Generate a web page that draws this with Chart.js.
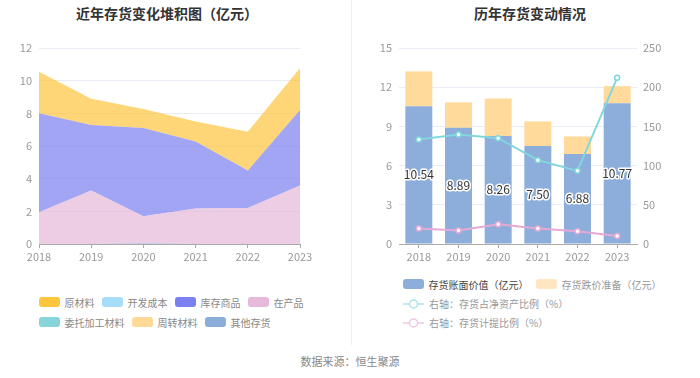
<!DOCTYPE html>
<html>
<head>
<meta charset="utf-8">
<script src="https://cdn.jsdelivr.net/npm/chart.js@4.4.0/dist/chart.umd.min.js"></script>
<style>
  html, body { margin: 0; padding: 0; background: #fff; }
  body { width: 700px; height: 378px; position: relative; overflow: hidden;
         font-family: "Noto Sans CJK SC", "Noto Sans", sans-serif; }
  .title { position: absolute; top: 3px; font-size: 14px; font-weight: bold; color: #333;
           transform: translateX(-50%); white-space: nowrap; }
  canvas { position: absolute; }
  .sep { position: absolute; left: 351px; top: 0; width: 1px; height: 345px; background: #efefef; }
  .legend { position: absolute; font-size: 10px; color: #888; }
  .row { display: flex; align-items: center; height: 20px; }
  .item { display: flex; align-items: center; margin-right: 7.5px; white-space: nowrap; }
  .sw { width: 21px; height: 10px; border-radius: 3px; margin-right: 4.5px; }
  .ic { margin-right: 5px; }
  .footer { position: absolute; left: 350px; top: 353px; transform: translateX(-50%);
            font-size: 11px; color: #888; white-space: nowrap; }
</style>
</head>
<body>
<div class="title" style="left:167px">近年存货变化堆积图（亿元）</div>
<div class="title" style="left:530px">历年存货变动情况</div>
<div class="sep"></div>
<canvas id="leftChart" width="340" height="240" style="left:0;top:30px"></canvas>
<canvas id="rightChart" width="348" height="240" style="left:352px;top:30px"></canvas>
<div class="legend" id="leftLegend" style="left:39px;top:292px"></div>
<div class="legend" id="rightLegend" style="left:403px;top:274px"></div>
<div class="footer">数据来源：恒生聚源</div>
<script>
// ---- data ----
const years = ["2018", "2019", "2020", "2021", "2022", "2023"];

// left: stacked inventory components (亿元)
const rawMaterial = [2.54, 1.60, 1.16, 1.22, 2.38, 2.56];   // 原材料
const devCost = [0, 0, 0, 0, 0, 0];                        // 开发成本
const goodsInStock = [6.06, 4.02, 5.40, 4.11, 2.29, 4.63]; // 库存商品
const workInProgress = [1.94, 3.27, 1.66, 2.17, 2.21, 3.58]; // 在产品
const consigned = [0, 0, 0, 0, 0, 0];                      // 委托加工材料
const turnover = [0, 0, 0, 0, 0, 0];                       // 周转材料
const otherStock = [0, 0, 0.04, 0, 0, 0];                  // 其他存货

// right: book value, impairment, ratios
const bookValue = [10.54, 8.89, 8.26, 7.50, 6.88, 10.77];  // 存货账面价值
const impairment = [2.67, 1.95, 2.88, 1.88, 1.35, 1.31];   // 存货跌价准备
const netAssetRatio = [133.4, 139.7, 135.0, 106.9, 93.3, 212.0]; // 存货占净资产比例 %
const provisionRatio = [19.7, 17.1, 25.2, 19.7, 16.2, 10.2];     // 存货计提比例 %

const leftTicks = [0, 2, 4, 6, 8, 10, 12];
const rightTicksL = [0, 3, 6, 9, 12, 15];
const rightTicksR = [0, 50, 100, 150, 200, 250];

Chart.defaults.font.family = '"Noto Sans CJK SC", "Noto Sans", sans-serif';
Chart.defaults.font.size = 11;
Chart.defaults.color = "#999";
Chart.defaults.animation = false;

const gridColor = "#e8ecf4";
const axisColor = "#aaa";

// ---- left chart: stacked area ----
// stacking bottom -> top; legend order is separate
const leftSeries = [
    { name: "其他存货", data: otherStock, color: "#8badda" },
    { name: "委托加工材料", data: consigned, color: "#86d5d8" },
    { name: "周转材料", data: turnover, color: "#ffd996" },
    { name: "开发成本", data: devCost, color: "#a6ddf8" },
    { name: "在产品", data: workInProgress, color: "#e6b8d9" },
    { name: "库存商品", data: goodsInStock, color: "#7b7ff0" },
    { name: "原材料", data: rawMaterial, color: "#ffc53d" }
];
const leftLegendOrder = ["原材料", "开发成本", "库存商品", "在产品", "委托加工材料", "周转材料", "其他存货"];

function withAlpha(hex, a) {
    const n = parseInt(hex.slice(1), 16);
    return `rgba(${n >> 16},${(n >> 8) & 255},${n & 255},${a})`;
}

new Chart(document.getElementById("leftChart"), {
    type: "line",
    data: {
        labels: years,
        datasets: leftSeries.map((s, i) => ({
            label: s.name,
            data: s.data,
            borderWidth: 0,
            borderColor: withAlpha(s.color, 0.7),
            backgroundColor: withAlpha(s.color, 0.7),
            pointRadius: 0,
            tension: 0,
            fill: i === 0 ? "origin" : "-1"
        }))
    },
    options: {
        responsive: false,
        layout: { padding: { top: 18, right: 40, left: 0, bottom: 0 } },
        plugins: { legend: { display: false }, tooltip: { enabled: false } },
        scales: {
            x: {
                offset: false,
                grid: { display: true, drawOnChartArea: false, drawTicks: true, tickLength: 4, color: axisColor },
                border: { display: true, color: axisColor },
                ticks: { padding: 2, color: "#999", maxRotation: 0 },
                afterFit: s => { s.height = 26; }
            },
            y: {
                stacked: true,
                min: 0, max: 12,
                afterBuildTicks: s => { s.ticks = leftTicks.map(v => ({ value: v })); },
                grid: { color: gridColor, drawTicks: false },
                border: { display: false },
                ticks: { padding: 7, color: "#999" },
                afterFit: s => { s.width = 39; }
            }
        }
    }
});

// ---- right chart: stacked bars + ratio lines ----
const rightBars = [
    { name: "存货账面价值（亿元）", data: bookValue, color: "#8dadda", swatch: "#8dadda" },
    { name: "存货跌价准备（亿元）", data: impairment, color: "#ffda9b", swatch: "#ffe6c2" }
];
const rightLines = [
    { name: "右轴：存货占净资产比例（%）", data: netAssetRatio, color: "#80d8de", icon: "#a8e5ea" },
    { name: "右轴：存货计提比例（%）", data: provisionRatio, color: "#e6a9d6", icon: "#f0c6e4" }
];

// value labels in the middle of the book-value bars
const barLabels = {
    id: "barLabels",
    afterDatasetsDraw(chart) {
        const ctx = chart.ctx;
        const idx = chart.data.datasets.findIndex(d => d.data === bookValue);
        const meta = chart.getDatasetMeta(idx);
        ctx.save();
        ctx.font = '12px "Noto Sans CJK SC", sans-serif';
        ctx.textAlign = "center";
        ctx.textBaseline = "middle";
        ctx.lineJoin = "round";
        meta.data.forEach((bar, i) => {
            const y = (bar.y + bar.base) / 2;
            const txt = bookValue[i].toFixed(2);
            ctx.lineWidth = 3;
            ctx.strokeStyle = "#fff";
            ctx.strokeText(txt, bar.x, y);
            ctx.fillStyle = "#333";
            ctx.fillText(txt, bar.x, y);
        });
        ctx.restore();
    }
};

new Chart(document.getElementById("rightChart"), {
    data: {
        labels: years,
        datasets: [
            ...rightLines.map(s => ({
                type: "line",
                label: s.name,
                data: s.data,
                yAxisID: "y1",
                borderColor: s.color,
                borderWidth: 2,
                pointRadius: 2.5,
                pointBorderWidth: 1.5,
                pointBackgroundColor: "#fff",
                pointBorderColor: s.color,
                tension: 0,
                fill: false,
                order: 0
            })),
            ...rightBars.map(s => ({
                type: "bar",
                label: s.name,
                data: s.data,
                yAxisID: "y",
                backgroundColor: s.color,
                borderWidth: 0,
                barPercentage: 0.68,
                categoryPercentage: 1,
                stack: "inv",
                order: 1
            }))
        ]
    },
    options: {
        responsive: false,
        layout: { padding: { top: 18, right: 0, left: 0, bottom: 0 } },
        plugins: { legend: { display: false }, tooltip: { enabled: false } },
        scales: {
            x: {
                stacked: true,
                grid: { display: true, offset: false, drawOnChartArea: false, drawTicks: true, tickLength: 4, color: axisColor },
                border: { display: true, color: axisColor },
                ticks: { padding: 2, color: "#999", maxRotation: 0 },
                afterFit: s => { s.height = 26; }
            },
            y: {
                stacked: true,
                position: "left",
                min: 0, max: 15,
                afterBuildTicks: s => { s.ticks = rightTicksL.map(v => ({ value: v })); },
                grid: { color: gridColor, drawTicks: false },
                border: { display: false },
                ticks: { padding: 7, color: "#999" },
                afterFit: s => { s.width = 47; }
            },
            y1: {
                position: "right",
                min: 0, max: 250,
                afterBuildTicks: s => { s.ticks = rightTicksR.map(v => ({ value: v })); },
                grid: { display: false, drawTicks: false },
                border: { display: false },
                ticks: { padding: 6, color: "#999" },
                afterFit: s => { s.width = 63; }
            }
        }
    },
    plugins: [barLabels]
});

// ---- legends ----
const leftLegend = document.getElementById("leftLegend");
const leftRows = [leftLegendOrder.slice(0, 4), leftLegendOrder.slice(4)];
leftRows.forEach(names => {
    const row = document.createElement("div");
    row.className = "row";
    names.forEach(n => {
        const s = leftSeries.find(x => x.name === n);
        const item = document.createElement("div");
        item.className = "item";
        item.innerHTML = `<span class="sw" style="background:${s.color}"></span><span>${n}</span>`;
        row.appendChild(item);
    });
    leftLegend.appendChild(row);
});

const rightLegend = document.getElementById("rightLegend");
const barRow = document.createElement("div");
barRow.className = "row";
rightBars.forEach((s, i) => {
    const item = document.createElement("div");
    item.className = "item";
    item.innerHTML = `<span class="sw" style="background:${s.swatch}"></span><span style="color:${i === 0 ? "#444" : "#999"}">${s.name}</span>`;
    barRow.appendChild(item);
});
rightLegend.appendChild(barRow);
rightLines.forEach(s => {
    const row = document.createElement("div");
    row.className = "row";
    row.style.height = "19px";
    row.innerHTML = `<svg class="ic" width="21" height="12"><line x1="0" y1="6" x2="21" y2="6" stroke="${s.icon}" stroke-width="1.5"/><circle cx="10.5" cy="6" r="4" fill="#fff" stroke="${s.icon}" stroke-width="1.5"/></svg><span style="color:#999">${s.name}</span>`;
    rightLegend.appendChild(row);
});
</script>
</body>
</html>
